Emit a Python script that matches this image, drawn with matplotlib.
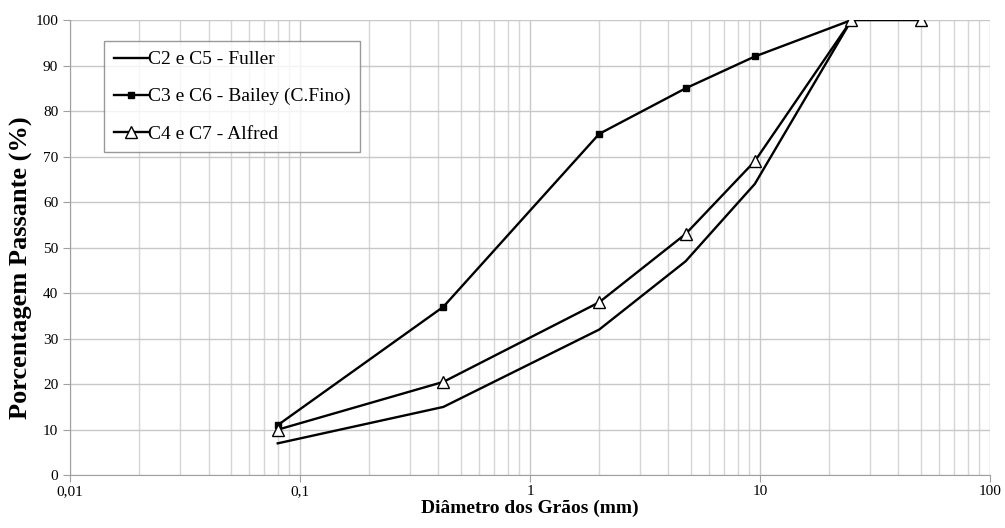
import matplotlib
matplotlib.use("Agg")
import matplotlib.pyplot as plt
from matplotlib.ticker import FixedLocator, FixedFormatter, LogLocator, NullFormatter

# sieve openings (mm) and percent passing
diam_fuller = [0.08, 0.42, 2, 4.75, 9.5, 25]
pass_fuller = [7, 15, 32, 47, 64, 100]

diam_bailey = [0.08, 0.42, 2, 4.75, 9.5, 25]
pass_bailey = [11, 37, 75, 85, 92, 100]

diam_alfred = [0.08, 0.42, 2, 4.75, 9.5, 25, 50]
pass_alfred = [10, 20.5, 38, 53, 69, 100, 100]

labels = ["C2 e C5 - Fuller", "C3 e C6 - Bailey (C.Fino)", "C4 e C7 - Alfred"]
x_ticks = [0.01, 0.1, 1, 10, 100]
x_ticklabels = ["0,01", "0,1", "1", "10", "100"]
y_ticks = list(range(0, 101, 10))

plt.rcParams['font.family'] = ['Liberation Serif', 'DejaVu Serif']

fig = plt.figure(figsize=(10.05, 5.28), dpi=100)
ax = fig.add_axes([0.0697, 0.100, 0.9153, 0.862])

ax.plot(diam_fuller, pass_fuller, color='black', lw=1.7, label=labels[0], zorder=3)
ax.plot(diam_bailey, pass_bailey, color='black', lw=1.7, marker='s', ms=4.5,
        label=labels[1], zorder=4)
ax.plot(diam_alfred, pass_alfred, color='black', lw=1.7, marker='^', ms=8.5,
        markerfacecolor='white', markeredgewidth=1.0, label=labels[2], zorder=5)

ax.set_xscale('log')
ax.set_xlim(0.01, 100)
ax.set_ylim(0, 100)
ax.xaxis.set_major_locator(FixedLocator(x_ticks))
ax.xaxis.set_major_formatter(FixedFormatter(x_ticklabels))
ax.xaxis.set_minor_locator(LogLocator(base=10, subs=range(2, 10)))
ax.xaxis.set_minor_formatter(NullFormatter())
ax.set_yticks(y_ticks)

ax.grid(True, which='major', color='#c8c8c8', lw=1.0, zorder=0)
ax.grid(True, which='minor', axis='x', color='#d6d6d6', lw=1.0, zorder=0)
ax.set_axisbelow(True)

for s in ['top', 'right']:
    ax.spines[s].set_visible(False)
for s in ['left', 'bottom']:
    ax.spines[s].set_color('#a0a0a0')
ax.tick_params(axis='both', which='major', colors='#a0a0a0', length=5, labelsize=11,
               labelcolor='black')
ax.tick_params(axis='x', which='minor', length=0)
ax.tick_params(axis='x', pad=2)

ax.set_xlabel("Diâmetro dos Grãos (mm)", fontsize=14, fontweight='bold', labelpad=1)
ax.set_ylabel("Porcentagem Passante (%)", fontsize=19, fontweight='bold')
ax.yaxis.set_label_coords(-0.040, 0.455)

leg = ax.legend(loc='upper left', bbox_to_anchor=(0.037, 0.954), fontsize=14,
                frameon=True, fancybox=False, handlelength=1.75, handletextpad=0.0,
                borderpad=0.5, labelspacing=1.0, borderaxespad=0)
leg.get_frame().set_edgecolor('#808080')
leg.get_frame().set_linewidth(1.0)

fig.savefig("out.png", dpi=100)
